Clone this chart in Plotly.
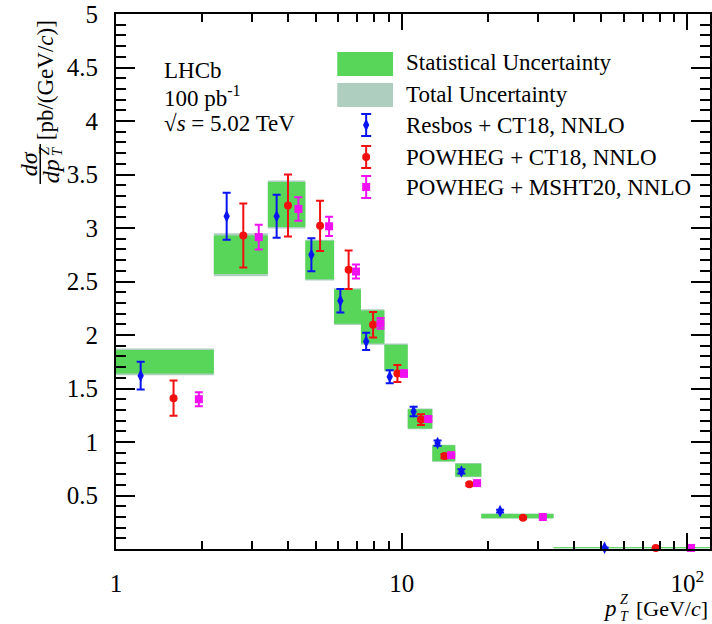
import plotly.graph_objects as go

# ---- Z boson pT differential cross-section, LHCb 5.02 TeV ----
bin_lo = [1.0, 2.2, 3.4, 4.6, 5.8, 7.2, 8.7, 10.5, 12.8, 15.4, 19.0, 34.0]
bin_hi = [2.2, 3.4, 4.6, 5.8, 7.2, 8.7, 10.5, 12.8, 15.4, 19.0, 34.0, 120.0]
data_val = [1.75, 2.75, 3.22, 2.70, 2.265, 2.075, 1.79, 1.216, 0.895, 0.737, 0.308, 0.012]
stat_err = [0.11, 0.18, 0.21, 0.18, 0.16, 0.155, 0.12, 0.09, 0.075, 0.06, 0.02, 0.004]
tot_err = [0.125, 0.20, 0.225, 0.19, 0.172, 0.165, 0.13, 0.097, 0.08, 0.066, 0.024, 0.006]

resbos_x = [1.22, 2.44, 3.65, 4.83, 6.10, 7.51, 9.08, 11.01, 13.35, 16.18, 22.1, 51.3]
resbos_y = [1.62, 3.11, 3.11, 2.75, 2.32, 1.94, 1.61, 1.285, 0.99, 0.725, 0.354, 0.012]
resbos_e = [0.13, 0.22, 0.20, 0.155, 0.11, 0.08, 0.06, 0.045, 0.025, 0.02, 0.012, 0.002]

powct_x = [1.59, 2.79, 4.0, 5.18, 6.52, 7.94, 9.66, 11.68, 14.12, 17.26, 26.6, 77.5]
powct_y = [1.41, 2.93, 3.21, 3.02, 2.61, 2.096, 1.64, 1.21, 0.868, 0.604, 0.292, 0.01]
powct_e = [0.165, 0.30, 0.29, 0.235, 0.18, 0.12, 0.08, 0.05, 0.02, 0.012, 0.01, 0.002]

powms_x = [1.95, 3.16, 4.35, 5.57, 6.92, 8.43, 10.19, 12.39, 14.9, 18.36, 31.2, 103.0]
powms_y = [1.40, 2.915, 3.178, 3.016, 2.593, 2.108, 1.64, 1.215, 0.877, 0.616, 0.299, 0.01]
powms_e = [0.065, 0.115, 0.11, 0.09, 0.065, 0.05, 0.03, 0.02, 0.01, 0.01, 0.005, 0.002]

y_ticks = [0.5, 1, 1.5, 2, 2.5, 3, 3.5, 4, 4.5, 5]
y_ticktext = ["0.5", "1", "1.5", "2", "2.5", "3", "3.5", "4", "4.5", "5"]
x_ticks = [1, 10, 100]
x_ticktext = ["1", "10", "10<sup>2</sup>"]
x_minor = [2, 3, 4, 5, 6, 7, 8, 9, 20, 30, 40, 50, 60, 70, 80, 90]

legend_labels = ["Statistical Uncertainty", "Total Uncertainty",
                 "Resbos + CT18, NNLO", "POWHEG + CT18, NNLO",
                 "POWHEG + MSHT20, NNLO"]

GREEN = "#58d65a"
GREY = "#aecebf"
BLUE = "#0a14f0"
RED = "#f01010"
MAGENTA = "#f010f0"
FONT = "Liberation Serif"

W, H = 712, 624
L, R, T, B = 116, 0, 14, 75
PW, PH = W - L - R, H - T - B


def fx(p):
    return (p - L) / PW


def fy(p):
    return (H - B - p) / PH


def boxes(lo, hi, c, e):
    xs, ys = [], []
    for a, b, v, d in zip(lo, hi, c, e):
        xs += [a, b, b, a, a, None]
        ys += [v - d, v - d, v + d, v + d, v - d, None]
    return xs, ys


fig = go.Figure()

tx, ty = boxes(bin_lo, bin_hi, data_val, tot_err)
fig.add_trace(go.Scatter(x=tx, y=ty, fill="toself", fillcolor=GREY,
                         mode="none", hoverinfo="skip", showlegend=False))
sx, sy = boxes(bin_lo, bin_hi, data_val, stat_err)
fig.add_trace(go.Scatter(x=sx, y=sy, fill="toself", fillcolor=GREEN,
                         mode="none", hoverinfo="skip", showlegend=False))


def points(x, y, e, color, symbol, size):
    return go.Scatter(
        x=x, y=y, mode="markers",
        marker=dict(color=color, symbol=symbol, size=size, line=dict(width=0)),
        error_y=dict(type="data", array=e, color=color, thickness=2, width=4),
        showlegend=False, cliponaxis=False)


fig.add_trace(points(resbos_x, resbos_y, resbos_e, BLUE, "diamond-tall", 9))
fig.add_trace(points(powct_x, powct_y, powct_e, RED, "circle", 8))
fig.add_trace(points(powms_x, powms_y, powms_e, MAGENTA, "square", 8))

# legend glyphs on a pixel-space overlay axis
leg_y = [125, 157, 187]
for yy, col, sym, sz in zip(leg_y, [BLUE, RED, MAGENTA],
                            ["diamond-tall", "circle", "square"], [9, 8, 8]):
    fig.add_trace(go.Scatter(
        x=[367], y=[yy], xaxis="x2", yaxis="y2", mode="markers",
        marker=dict(color=col, symbol=sym, size=sz),
        error_y=dict(type="data", array=[11], color=col, thickness=2, width=5),
        showlegend=False, hoverinfo="skip"))

shapes = [
    dict(type="rect", xref="paper", yref="paper", x0=fx(338), x1=fx(394),
         y0=fy(76), y1=fy(52), fillcolor=GREEN, line=dict(width=0)),
    dict(type="rect", xref="paper", yref="paper", x0=fx(338), x1=fx(394),
         y0=fy(107), y1=fy(83), fillcolor=GREY, line=dict(width=0)),
    # fraction bar of the y-axis title
    dict(type="line", xref="paper", yref="paper", x0=fx(40), x1=fx(40),
         y0=fy(184), y1=fy(144), line=dict(color="black", width=1.5)),
]

ann = []
for lbl, yy in zip(legend_labels, [63, 94, 125, 157, 187]):
    ann.append(dict(text=lbl, x=fx(405), y=fy(yy), xref="paper", yref="paper",
                    xanchor="left", yanchor="middle", showarrow=False,
                    font=dict(family=FONT, size=23, color="black")))

for txt, yy in zip(["LHCb", "100 pb<sup>-1</sup>", "\u221a<i>s</i> = 5.02 TeV"],
                   [70, 97, 123]):
    ann.append(dict(text=txt, x=fx(162), y=fy(yy), xref="paper", yref="paper",
                    xanchor="left", yanchor="middle", showarrow=False,
                    font=dict(family=FONT, size=23, color="black")))

# y-axis title (rotated fraction)
ann += [
    dict(text="<i>d\u03c3</i>", x=fx(29), y=fy(164), xref="paper", yref="paper",
         textangle=-90, showarrow=False, xanchor="center", yanchor="middle",
         font=dict(family=FONT, size=24, color="black")),
    dict(text="<i>dp</i>", x=fx(51), y=fy(171), xref="paper", yref="paper",
         textangle=-90, showarrow=False, xanchor="center", yanchor="middle",
         font=dict(family=FONT, size=24, color="black")),
    dict(text="<i>Z</i>", x=fx(44), y=fy(151), xref="paper", yref="paper",
         textangle=-90, showarrow=False, xanchor="center", yanchor="middle",
         font=dict(family=FONT, size=15, color="black")),
    dict(text="<i>T</i>", x=fx(57), y=fy(151), xref="paper", yref="paper",
         textangle=-90, showarrow=False, xanchor="center", yanchor="middle",
         font=dict(family=FONT, size=15, color="black")),
    dict(text="[pb/(GeV/<i>c</i>)]", x=fx(45), y=fy(80), xref="paper", yref="paper",
         textangle=-90, showarrow=False, xanchor="center", yanchor="middle",
         font=dict(family=FONT, size=23, color="black")),
]

# x-axis title
ann += [
    dict(text="<i>p</i>", x=fx(612), y=fy(608), xref="paper", yref="paper",
         showarrow=False, xanchor="center", yanchor="middle",
         font=dict(family=FONT, size=23, color="black")),
    dict(text="<i>Z</i>", x=fx(626), y=fy(599), xref="paper", yref="paper",
         showarrow=False, xanchor="center", yanchor="middle",
         font=dict(family=FONT, size=14, color="black")),
    dict(text="<i>T</i>", x=fx(626), y=fy(616), xref="paper", yref="paper",
         showarrow=False, xanchor="center", yanchor="middle",
         font=dict(family=FONT, size=14, color="black")),
    dict(text="[GeV/<i>c</i>]", x=fx(712), y=fy(608), xref="paper", yref="paper",
         showarrow=False, xanchor="right", yanchor="middle",
         font=dict(family=FONT, size=22, color="black")),
]

axis_common = dict(showline=True, linecolor="black", linewidth=2,
                   mirror="allticks", ticks="inside", tickwidth=2,
                   tickcolor="black", showgrid=False, zeroline=False,
                   tickfont=dict(family=FONT, size=25, color="black"))

fig.update_layout(
    width=W, height=H,
    margin=dict(l=L, r=R, t=T, b=B, pad=0),
    paper_bgcolor="white", plot_bgcolor="white",
    showlegend=False,
    shapes=shapes, annotations=ann,
    xaxis=dict(type="log", range=[0, 2.0792], tickvals=x_ticks,
               ticktext=x_ticktext, ticklen=16, ticklabelstandoff=11,
               minor=dict(tickvals=x_minor, ticks="inside", ticklen=8,
                          tickwidth=2, tickcolor="black", showgrid=False),
               **axis_common),
    yaxis=dict(range=[0, 5], tickvals=y_ticks, ticktext=y_ticktext,
               ticklen=19, ticklabelstandoff=11,
               minor=dict(dtick=0.1, tick0=0, ticks="inside", ticklen=10,
                          tickwidth=2, tickcolor="black", showgrid=False),
               **axis_common),
    xaxis2=dict(overlaying="x", range=[L, W], visible=False, fixedrange=True),
    yaxis2=dict(overlaying="y", range=[H - B, T], visible=False, fixedrange=True),
)

fig.write_html("out.html")
